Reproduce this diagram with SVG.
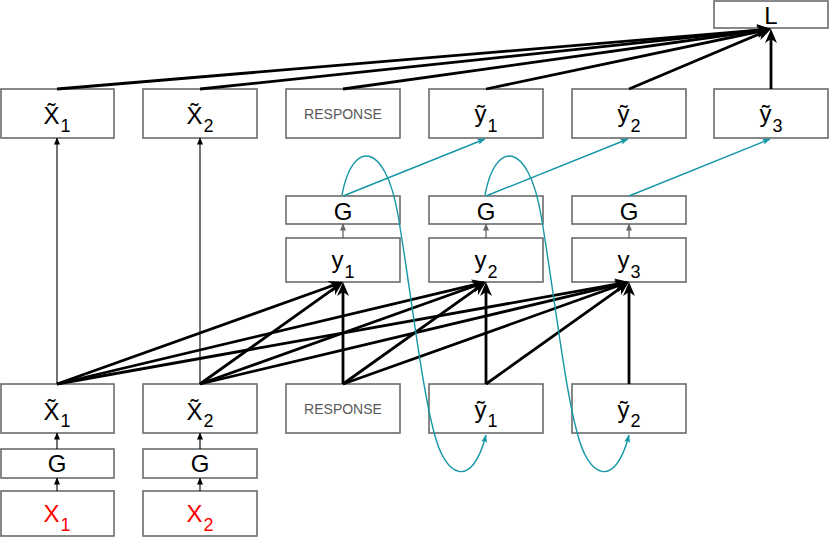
<svg xmlns="http://www.w3.org/2000/svg" width="830" height="539" viewBox="0 0 830 539">
<style>
.box{fill:#fff;stroke:#6b6b6b;stroke-width:1.6}
.t{font-family:"Liberation Sans",Arial,sans-serif;font-size:24px;fill:#000;text-anchor:middle}
.s{font-size:18px}
.r{fill:#ff0000}
.resp{font-family:"Liberation Sans",Arial,sans-serif;font-size:14px;fill:#595959;text-anchor:middle}
.thick{stroke:#000;stroke-width:2.8;fill:none;marker-end:url(#ah)}
.thin{stroke:#000;stroke-width:1.1;fill:none;marker-end:url(#sm)}
.gray{stroke:#666;stroke-width:1.3;fill:none;marker-end:url(#gm)}
.teal{stroke:#1597a6;stroke-width:1.4;fill:none;marker-end:url(#tm)}
</style>
<defs>
<marker id="ah" markerUnits="userSpaceOnUse" viewBox="0 0 14 12" refX="10" refY="6" markerWidth="14" markerHeight="12" orient="auto"><path d="M0,0 L14,6 L0,12 L4,6 Z" fill="#000"/></marker>
<marker id="sm" markerUnits="userSpaceOnUse" viewBox="0 0 7 6" refX="6.5" refY="3" markerWidth="7" markerHeight="6" orient="auto"><path d="M0,0 L7,3 L0,6 Z" fill="#000"/></marker>
<marker id="gm" markerUnits="userSpaceOnUse" viewBox="0 0 7 6" refX="6.5" refY="3" markerWidth="7" markerHeight="6" orient="auto"><path d="M0,0 L7,3 L0,6 Z" fill="#666"/></marker>
<marker id="tm" markerUnits="userSpaceOnUse" viewBox="0 0 8 6" refX="7.5" refY="3" markerWidth="8" markerHeight="6" orient="auto"><path d="M0,0 L8,3 L0,6 L1.5,3 Z" fill="#1597a6"/></marker>
</defs>

<g id="nodes">
<g id="L"><rect class="box" x="714" y="1" width="114" height="27"/><text class="t" x="771" y="24" font-size="22">L</text></g>

<g id="xt1_top"><rect class="box" x="1" y="89" width="113" height="49"/><text class="t" x="57" y="124">X̃<tspan class="s" dx="1" dy="8">1</tspan></text></g>
<g id="xt2_top"><rect class="box" x="143" y="89" width="114" height="49"/><text class="t" x="200" y="124">X̃<tspan class="s" dx="1" dy="8">2</tspan></text></g>
<g id="resp_top"><rect class="box" x="286" y="89" width="114" height="49"/><text class="resp" x="343" y="119">RESPONSE</text></g>
<g id="yt1_top"><rect class="box" x="429" y="89" width="114" height="49"/><text class="t" x="486" y="122">ỹ<tspan class="s" dx="1" dy="10">1</tspan></text></g>
<g id="yt2_top"><rect class="box" x="572" y="89" width="114" height="49"/><text class="t" x="629" y="122">ỹ<tspan class="s" dx="1" dy="10">2</tspan></text></g>
<g id="yt3_top"><rect class="box" x="714" y="89" width="114" height="49"/><text class="t" x="771" y="122">ỹ<tspan class="s" dx="1" dy="10">3</tspan></text></g>

<g id="g_y1"><rect class="box" x="286" y="196" width="114" height="28"/><text class="t" x="343" y="220">G</text></g>
<g id="g_y2"><rect class="box" x="429" y="196" width="114" height="28"/><text class="t" x="486" y="220">G</text></g>
<g id="g_y3"><rect class="box" x="572" y="196" width="114" height="28"/><text class="t" x="629" y="220">G</text></g>

<g id="y1"><rect class="box" x="286" y="238" width="114" height="44"/><text class="t" x="343" y="268">y<tspan class="s" dx="1" dy="10">1</tspan></text></g>
<g id="y2"><rect class="box" x="429" y="238" width="114" height="44"/><text class="t" x="486" y="268">y<tspan class="s" dx="1" dy="10">2</tspan></text></g>
<g id="y3"><rect class="box" x="572" y="238" width="114" height="44"/><text class="t" x="629" y="268">y<tspan class="s" dx="1" dy="10">3</tspan></text></g>

<g id="xt1_bot"><rect class="box" x="1" y="384" width="113" height="49"/><text class="t" x="57" y="420">X̃<tspan class="s" dx="1" dy="7">1</tspan></text></g>
<g id="xt2_bot"><rect class="box" x="143" y="384" width="114" height="49"/><text class="t" x="200" y="420">X̃<tspan class="s" dx="1" dy="7">2</tspan></text></g>
<g id="resp_bot"><rect class="box" x="286" y="384" width="114" height="49"/><text class="resp" x="343" y="414">RESPONSE</text></g>
<g id="yt1_bot"><rect class="box" x="429" y="384" width="114" height="49"/><text class="t" x="486" y="418">ỹ<tspan class="s" dx="1" dy="9">1</tspan></text></g>
<g id="yt2_bot"><rect class="box" x="572" y="384" width="114" height="49"/><text class="t" x="629" y="418">ỹ<tspan class="s" dx="1" dy="9">2</tspan></text></g>

<g id="g_x1"><rect class="box" x="1" y="449" width="113" height="29"/><text class="t" x="57" y="472">G</text></g>
<g id="g_x2"><rect class="box" x="143" y="449" width="114" height="29"/><text class="t" x="200" y="472">G</text></g>

<g id="x1"><rect class="box" x="1" y="491" width="113" height="45"/><text class="t r" x="57" y="522">X<tspan class="s" dx="1" dy="9">1</tspan></text></g>
<g id="x2"><rect class="box" x="143" y="491" width="114" height="45"/><text class="t r" x="200" y="522">X<tspan class="s" dx="1" dy="9">2</tspan></text></g>
</g>

<g id="connectors">
<line class="thick" x1="57" y1="89" x2="767" y2="29.3"/>
<line class="thick" x1="200" y1="89" x2="767" y2="29.4"/>
<line class="thick" x1="343" y1="89" x2="767" y2="29.6"/>
<line class="thick" x1="486" y1="89" x2="767.1" y2="29.8"/>
<line class="thick" x1="629" y1="89" x2="767.3" y2="30.6"/>
<line class="thick" x1="771" y1="89" x2="771" y2="33"/>

<line class="thin" x1="57" y1="384" x2="57" y2="138"/>
<line class="thin" x1="200" y1="384" x2="200" y2="138"/>

<line class="thin" x1="57" y1="491" x2="57" y2="478"/>
<line class="thin" x1="57" y1="449" x2="57" y2="433"/>
<line class="thin" x1="200" y1="491" x2="200" y2="478"/>
<line class="thin" x1="200" y1="449" x2="200" y2="433"/>

<line class="gray" x1="343" y1="238" x2="343" y2="224"/>
<line class="gray" x1="486" y1="238" x2="486" y2="224"/>
<line class="gray" x1="629" y1="238" x2="629" y2="224"/>

<line class="thick" x1="57" y1="384" x2="339.2" y2="283.3"/>
<line class="thick" x1="57" y1="384" x2="482.1" y2="282.9"/>
<line class="thick" x1="57" y1="384" x2="625.1" y2="282.7"/>
<line class="thick" x1="200" y1="384" x2="339.7" y2="284.3"/>
<line class="thick" x1="200" y1="384" x2="482.2" y2="283.3"/>
<line class="thick" x1="200" y1="384" x2="625.1" y2="282.9"/>
<line class="thick" x1="343" y1="384" x2="343" y2="286"/>
<line class="thick" x1="343" y1="384" x2="482.7" y2="284.3"/>
<line class="thick" x1="343" y1="384" x2="625.2" y2="283.3"/>
<line class="thick" x1="486" y1="384" x2="486" y2="286"/>
<line class="thick" x1="486" y1="384" x2="625.7" y2="284.3"/>
<line class="thick" x1="629" y1="384" x2="629" y2="286"/>

<line class="teal" x1="343" y1="196" x2="485" y2="139"/>
<line class="teal" x1="486" y1="196" x2="628" y2="139"/>
<line class="teal" x1="629" y1="196" x2="770" y2="139"/>
<path class="teal" d="M342,195 C352,140 385,140 398,215 C410,285 422,390 434,432 C445,478 472,490 486,435"/>
<path class="teal" d="M485,195 C495,140 528,140 541,215 C553,285 565,390 577,432 C588,478 615,490 629,435"/>
</g>
</svg>
